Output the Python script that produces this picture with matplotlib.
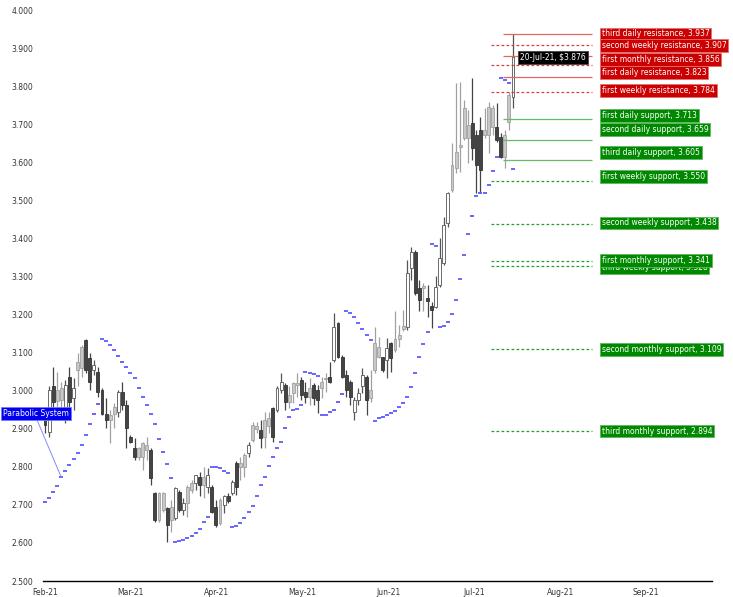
import matplotlib
matplotlib.use("Agg")
import matplotlib.pyplot as plt
import numpy as np

# daily candles, 1-Feb-21 .. 20-Jul-21 (one entry per trading day)
opens = [2.923, 2.892, 3.011, 3.002, 3.006, 2.958, 3.035, 2.980, 3.076, 3.116,
         3.133, 3.085, 3.054, 3.050, 3.002, 2.940, 2.936, 2.958, 2.945, 2.997,
         2.962, 2.879, 2.849, 2.849, 2.862, 2.857, 2.844, 2.730, 2.730, 2.730,
         2.691, 2.695, 2.665, 2.735, 2.687, 2.748, 2.757, 2.757, 2.774, 2.774,
         2.748, 2.748, 2.695, 2.713, 2.700, 2.722, 2.730, 2.809, 2.809, 2.831,
         2.836, 2.910, 2.906, 2.897, 2.923, 2.927, 2.954, 2.949, 3.002, 3.015,
         2.989, 3.019, 3.019, 3.028, 2.997, 3.006, 3.015, 3.002, 3.024, 3.034,
         3.037, 3.081, 3.177, 3.089, 3.041, 3.024, 2.945, 2.976, 3.011, 3.037,
         3.002, 3.124, 3.116, 3.089, 3.081, 3.124, 3.137, 3.146, 3.170, 3.168,
         3.321, 3.365, 3.270, 3.274, 3.243, 3.222, 3.221, 3.278, 3.335, 3.440,
         3.593, 3.628, 3.645, 3.742, 3.698, 3.703, 3.672, 3.685, 3.685, 3.746,
         3.742, 3.693, 3.667, 3.672, 3.777, 3.772]
highs = [2.932, 3.011, 3.063, 3.050, 3.024, 3.028, 3.063, 3.033, 3.098, 3.120,
         3.135, 3.098, 3.081, 3.063, 3.006, 2.980, 2.949, 2.967, 3.002, 3.024,
         2.976, 2.884, 2.875, 2.853, 2.866, 2.879, 2.849, 2.735, 2.735, 2.735,
         2.695, 2.713, 2.748, 2.739, 2.717, 2.752, 2.765, 2.779, 2.787, 2.800,
         2.796, 2.752, 2.713, 2.717, 2.726, 2.730, 2.765, 2.814, 2.827, 2.836,
         2.866, 2.919, 2.919, 2.923, 2.945, 2.945, 2.958, 3.011, 3.047, 3.019,
         3.011, 3.024, 3.047, 3.037, 3.024, 3.033, 3.019, 3.015, 3.037, 3.046,
         3.076, 3.203, 3.181, 3.094, 3.054, 3.028, 2.984, 3.006, 3.059, 3.041,
         3.054, 3.168, 3.142, 3.089, 3.138, 3.129, 3.208, 3.173, 3.212, 3.343,
         3.378, 3.370, 3.291, 3.282, 3.278, 3.234, 3.300, 3.400, 3.457, 3.523,
         3.650, 3.807, 3.812, 3.764, 3.737, 3.821, 3.685, 3.720, 3.742, 3.759,
         3.750, 3.755, 3.676, 3.685, 3.785, 3.937]
lows = [2.888, 2.879, 2.932, 2.958, 2.932, 2.914, 2.949, 2.949, 3.011, 3.037,
        3.046, 3.002, 3.041, 2.984, 2.936, 2.901, 2.862, 2.901, 2.932, 2.949,
        2.849, 2.862, 2.818, 2.818, 2.792, 2.818, 2.752, 2.656, 2.656, 2.682,
        2.603, 2.630, 2.660, 2.682, 2.674, 2.669, 2.730, 2.739, 2.722, 2.717,
        2.730, 2.678, 2.643, 2.647, 2.678, 2.704, 2.726, 2.726, 2.765, 2.774,
        2.827, 2.866, 2.888, 2.849, 2.849, 2.888, 2.866, 2.945, 2.993, 2.949,
        2.954, 2.967, 2.984, 2.976, 2.967, 2.962, 2.962, 2.941, 2.980, 2.997,
        3.019, 3.076, 3.085, 3.033, 2.984, 2.962, 2.923, 2.962, 2.993, 2.936,
        2.971, 3.046, 3.085, 3.050, 3.033, 3.050, 3.102, 3.116, 3.158, 3.159,
        3.291, 3.251, 3.208, 3.208, 3.194, 3.164, 3.216, 3.273, 3.330, 3.431,
        3.523, 3.571, 3.575, 3.659, 3.597, 3.606, 3.519, 3.519, 3.663, 3.624,
        3.672, 3.654, 3.610, 3.584, 3.685, 3.743]
closes = [2.910, 3.002, 2.971, 2.972, 2.976, 3.015, 2.971, 3.006, 3.054, 3.059,
          3.054, 3.024, 3.067, 2.997, 2.940, 2.923, 2.924, 2.940, 2.997, 2.962,
          2.901, 2.866, 2.827, 2.827, 2.827, 2.844, 2.770, 2.660, 2.660, 2.687,
          2.647, 2.660, 2.744, 2.687, 2.704, 2.704, 2.739, 2.779, 2.752, 2.752,
          2.779, 2.682, 2.647, 2.652, 2.722, 2.709, 2.761, 2.748, 2.800, 2.800,
          2.857, 2.870, 2.899, 2.875, 2.879, 2.906, 2.879, 3.006, 3.024, 2.971,
          2.971, 2.993, 3.015, 2.989, 2.984, 2.984, 2.982, 2.976, 3.006, 3.030,
          3.024, 3.168, 3.089, 3.037, 3.002, 2.984, 2.976, 2.993, 3.041, 2.976,
          2.980, 3.054, 3.089, 3.054, 3.111, 3.085, 3.107, 3.137, 3.162, 3.308,
          3.365, 3.256, 3.238, 3.269, 3.235, 3.211, 3.273, 3.349, 3.435, 3.519,
          3.527, 3.584, 3.641, 3.663, 3.663, 3.637, 3.593, 3.580, 3.672, 3.672,
          3.693, 3.659, 3.615, 3.615, 3.707, 3.876]

# parabolic SAR, one value per candle
sar = [2.707, 2.719, 2.733, 2.750, 2.772, 2.788, 2.805, 2.821, 2.836, 2.857,
       2.884, 2.913, 2.939, 2.964, 3.135, 3.131, 3.120, 3.107, 3.092, 3.076,
       3.063, 3.047, 3.032, 3.008, 2.983, 2.962, 2.938, 2.913, 2.873, 2.838,
       2.807, 2.771, 2.602, 2.604, 2.608, 2.612, 2.617, 2.626, 2.637, 2.654,
       2.669, 2.800, 2.799, 2.796, 2.790, 2.783, 2.643, 2.645, 2.652, 2.665,
       2.680, 2.698, 2.724, 2.752, 2.774, 2.802, 2.825, 2.850, 2.866, 2.903,
       2.932, 2.949, 2.952, 2.963, 3.050, 3.047, 3.044, 3.039, 2.936, 2.937,
       2.945, 2.949, 2.971, 2.991, 3.208, 3.203, 3.193, 3.177, 3.162, 3.146,
       3.133, 2.921, 2.927, 2.932, 2.936, 2.942, 2.947, 2.956, 2.968, 2.983,
       3.009, 3.047, 3.088, 3.122, 3.154, 3.385, 3.379, 3.166, 3.169, 3.180,
       3.202, 3.238, 3.294, 3.357, 3.412, 3.460, 3.511, 3.519, 3.519, 3.539,
       3.578, 3.614, 3.821, 3.817, 3.808, 3.583]

last_date = "20-Jul-21"
months = ["Feb-21", "Mar-21", "Apr-21", "May-21", "Jun-21", "Jul-21", "Aug-21", "Sep-21"]

level_names = ["third daily resistance", "second daily resistance", "first daily resistance",
               "second weekly resistance", "first weekly resistance", "first monthly resistance",
               "first daily support", "second daily support", "third daily support",
               "first weekly support", "second weekly support", "third weekly support",
               "first monthly support", "second monthly support", "third monthly support"]
level_values = [3.937, 3.880, 3.823, 3.907, 3.784, 3.856,
                3.713, 3.659, 3.605, 3.550, 3.438, 3.328, 3.341, 3.109, 2.894]

# label nudges in pixels (labels pushed apart like the original), missing = no label
label_nudge = {"third daily resistance": 0, "second weekly resistance": 0,
               "first monthly resistance": 5, "first daily resistance": 5,
               "first weekly resistance": 2, "first daily support": 4,
               "second daily support": 10, "third daily support": 7.5,
               "first weekly support": 5, "second weekly support": 1,
               "third weekly support": -2, "first monthly support": 0,
               "second monthly support": 0, "third monthly support": 0}

FS = 5.5
plt.rcParams["font.family"] = ["DejaVu Sans"]

fig = plt.figure(figsize=(7.33, 5.97), dpi=100)
ax = fig.add_axes([43 / 733, 16 / 597, 669 / 733, 571 / 597])

n = len(closes)
x = np.arange(n)
o = np.array(opens)
c = np.array(closes)
prev = np.concatenate([[o[0]], c[:-1]])

for i in range(n):
    if c[i] >= o[i]:
        fc, ec, wc = "#ffffff", "#555555", "#555555"
    elif c[i] >= prev[i]:
        fc, ec, wc = "#c8c8c8", "#a0a0a0", "#a0a0a0"
    else:
        fc, ec, wc = "#444444", "#333333", "#444444"
    ax.vlines(x[i], lows[i], highs[i], colors=wc, lw=0.9, zorder=2)
    bottom = min(o[i], c[i])
    height = max(abs(c[i] - o[i]), 0.003)
    ax.bar(x[i], height, bottom=bottom, width=0.72, color=fc, edgecolor=ec,
           linewidth=0.6, zorder=3)

ax.plot(x, sar, linestyle="none", marker="_", markersize=3.4, mew=1.3,
        color="#5a5aff", zorder=4)

# pivot levels
last = n - 1
for k, (name, val) in enumerate(zip(level_names, level_values)):
    is_res = "resistance" in name
    daily = "daily" in name
    if is_res:
        col = "#e06666" if daily else "#dd3b3b"
        box = "#cc0000"
        boxedge = "#e07070"
    else:
        col = "#66bb66" if daily else "#2a9a2a"
        box = "#008800"
        boxedge = "#5cb85c"
    start = last - 2.5 if daily else last - 5.5
    ls = "-" if daily else (0, (2.2, 1.8))
    ax.hlines(val, start, last + 19.5, colors=col, linestyles=ls, lw=0.9, zorder=5)
    if name in label_nudge:
        ax.annotate(f"{name}, {val:.3f}", xy=(last + 21.8, val),
                    xytext=(0, label_nudge[name]), textcoords="offset pixels",
                    ha="left", va="center", fontsize=FS, color="white",
                    bbox=dict(boxstyle="square,pad=0.25", fc=box, ec=boxedge, lw=0.6),
                    annotation_clip=False, zorder=10 + k)

ax.text(last + 1.7, c[-1], f"{last_date}, ${c[-1]:.3f}", ha="left", va="center",
        fontsize=FS, color="white", zorder=40,
        bbox=dict(boxstyle="square,pad=0.25", fc="black", ec="#444444", lw=0.6))

ax.annotate("Parabolic System", xy=(4, sar[4]), xytext=(-2.2, 2.941),
            ha="center", va="center", fontsize=FS, color="white",
            bbox=dict(boxstyle="square,pad=0.25", fc="#0000ee", ec="#7777ff", lw=0.6),
            arrowprops=dict(arrowstyle="-", color="#8888ff", lw=0.7,
                            relpos=(0.5, 0), shrinkA=0, shrinkB=0),
            annotation_clip=False, zorder=40)

ax.set_xlim(-0.5, 163.9)
ax.set_ylim(2.5, 4.0)
ax.set_xticks(np.arange(len(months)) * 21.1)
ax.set_xticklabels(months)
ax.set_yticks(np.arange(2.5, 4.001, 0.1))
ax.set_yticklabels([f"{v:.3f}" for v in np.arange(2.5, 4.001, 0.1)])
ax.tick_params(axis="both", length=0, labelsize=FS, colors="#333333")
ax.tick_params(axis="y", pad=7)
ax.tick_params(axis="x", pad=5)
for s in ["left", "right", "top"]:
    ax.spines[s].set_visible(False)
ax.spines["bottom"].set_color("black")
ax.spines["bottom"].set_linewidth(1)

plt.savefig("out.png", dpi=100)
